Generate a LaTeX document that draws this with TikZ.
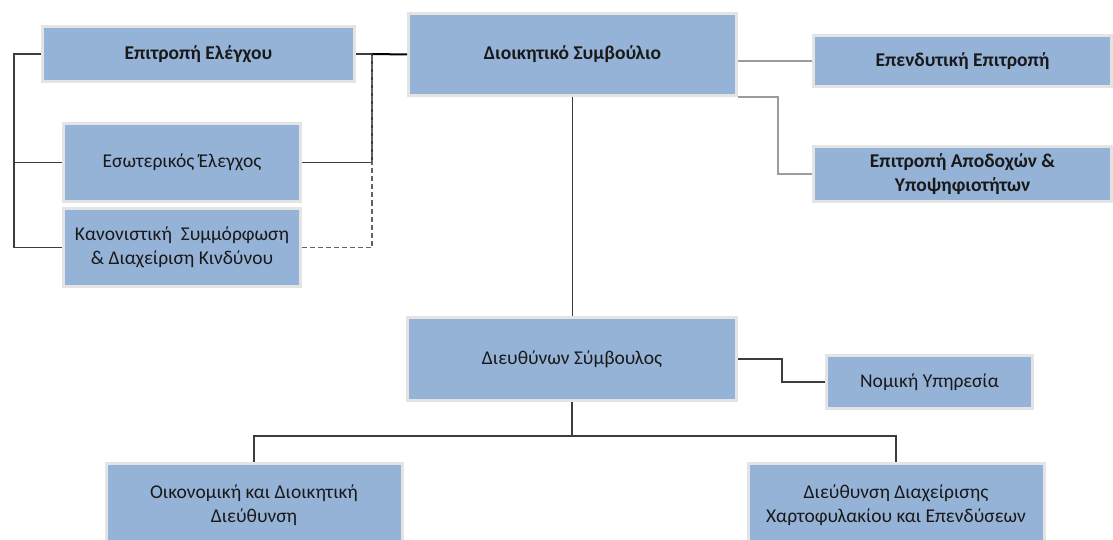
\documentclass[tikz,border=0pt]{standalone}
\usepackage{fontspec}
\setmainfont{Carlito}
\usetikzlibrary{calc,positioning}
\definecolor{boxfill}{HTML}{95B3D7}
\definecolor{boxrim}{HTML}{E4E4E4}
\definecolor{darkline}{HTML}{3C3C3C}
\definecolor{greyline}{HTML}{9C9C9C}

\begin{document}
\begin{tikzpicture}[x=1pt,y=-1pt,
  box/.style={draw=boxrim,line width=3pt,fill=boxfill,text=black!90,align=center,inner sep=0pt,font=\fontsize{19.5}{24}\selectfont},
  bbox/.style={box,font=\fontsize{19.5}{24}\selectfont\bfseries},
  conn/.style={darkline,line width=1.3pt},
  lconn/.style={greyline,line width=1.3pt}]
  \clip (0,0) rectangle (1113,540);

  \node[bbox,minimum width=312pt,minimum height=55pt] (EE) at (198.5,54) {Επιτροπή Ελέγχου};
  \node[box,minimum width=237pt,minimum height=78pt] (ES) at (182,162.5) {Εσωτερικός Έλεγχος};
  \node[box,minimum width=237pt,minimum height=78pt] (KS) at (182,247.5) {Κανονιστική~ Συμμόρφωση\\\& Διαχείριση Κινδύνου};
  \node[bbox,minimum width=328pt,minimum height=82pt] (DS) at (572.5,54.5) {Διοικητικό Συμβούλιο};
  \node[bbox,minimum width=298pt,minimum height=51pt] (EP) at (962.5,61) {Επενδυτική Επιτροπή};
  \node[bbox,minimum width=298pt,minimum height=55pt] (AY) at (962.5,174) {Επιτροπή Αποδοχών \&\\Υποψηφιοτήτων};
  \node[box,minimum width=329pt,minimum height=83pt] (CEO) at (572,359) {Διευθύνων Σύμβουλος};
  \node[box,minimum width=206pt,minimum height=53pt] (NY) at (929.5,382) {Νομική Υπηρεσία};
  \node[box,minimum width=296pt,minimum height=83pt] (OD) at (254,505) {Οικονομική και Διοικητική\\Διεύθυνση};
  \node[box,minimum width=296pt,minimum height=83pt] (DX) at (896,505) {Διεύθυνση Διαχείρισης\\Χαρτοφυλακίου και Επενδύσεων};

  \coordinate (rbus) at (372,54);
  \draw[conn] (EE.west) -- ++(-27,0) coordinate (lbus) |- (KS.west);
  \draw[conn] (lbus |- ES.west) -- (ES.west);
  \draw[conn] (EE.east) -- (rbus);
  \draw[black,line width=2pt] (rbus) -- (DS.west);
  \draw[conn] (ES.east) -| (rbus);
  \draw[conn,dash pattern=on 5pt off 3pt,darkline!80] (KS.east) -| (rbus);
  \draw[lconn] (DS.east |- EP.west) -- (EP.west);
  \draw[lconn] (DS.south east) -- ++(40,0) |- (AY.west);
  \draw[conn] (DS.south) -- (DS.south |- CEO.north);
  \draw[conn] (CEO.east) -- ++(44,0) |- (NY.west);
  \draw[conn] (CEO.south) -- ++(0,34) coordinate (dbus);
  \draw[conn] (dbus) -| (OD.north);
  \draw[conn] (dbus) -| (DX.north);
\end{tikzpicture}
\end{document}
